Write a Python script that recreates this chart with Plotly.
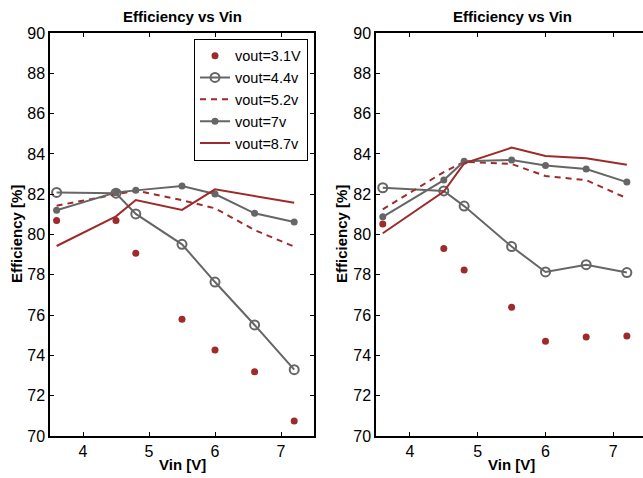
import plotly.graph_objects as go

vin = [3.6, 4.5, 4.8, 5.5, 6.0, 6.6, 7.2]

# Left panel
L_v31 = [80.69, 80.69, 79.07, 75.79, 74.27, 73.19, 70.74]
L_v44 = [82.09, 82.05, 81.02, 79.51, 77.64, 75.51, 73.29]
L_v52 = [81.43, 82.0, 82.18, 81.7, 81.3, 80.22, 79.4]
L_v7 = [81.2, 82.09, 82.19, 82.41, 82.01, 81.05, 80.62]
L_v87 = [79.43, 80.9, 81.71, 81.22, 82.24, 81.9, 81.58]

# Right panel
R_v31 = [80.52, 79.31, 78.24, 76.39, 74.7, 74.91, 74.96]
R_v44 = [82.32, 82.16, 81.41, 79.4, 78.14, 78.5, 78.11]
R_v52 = [81.25, 83.1, 83.61, 83.5, 82.9, 82.7, 81.8]
R_v7 = [80.88, 82.7, 83.63, 83.7, 83.43, 83.25, 82.6]
R_v87 = [80.06, 82.13, 83.53, 84.31, 83.9, 83.78, 83.46]

names = ["vout=3.1V", "vout=4.4v", "vout=5.2v", "vout=7v", "vout=8.7v"]
yticks = [70, 72, 74, 76, 78, 80, 82, 84, 86, 88, 90]
xticks = [4, 5, 6, 7]

RED = "#9E2A2B"
GREY = "#666666"
W, H = 643, 478

fig = go.Figure()

def add_panel(data, xa, ya, show):
    v31, v44, v52, v7, v87 = data
    fig.add_trace(go.Scatter(x=vin, y=v31, mode="markers", name=names[0],
                             marker=dict(color=RED, size=7), xaxis=xa, yaxis=ya, showlegend=show))
    fig.add_trace(go.Scatter(x=vin, y=v44, mode="lines+markers", name=names[1],
                             line=dict(color=GREY, width=2),
                             marker=dict(symbol="circle-open", color=GREY, size=9, line=dict(width=2)),
                             xaxis=xa, yaxis=ya, showlegend=show))
    fig.add_trace(go.Scatter(x=vin, y=v52, mode="lines", name=names[2],
                             line=dict(color=RED, width=2, dash="6px,5px"),
                             xaxis=xa, yaxis=ya, showlegend=show))
    fig.add_trace(go.Scatter(x=vin, y=v7, mode="lines+markers", name=names[3],
                             line=dict(color=GREY, width=2),
                             marker=dict(symbol="circle", color=GREY, size=7),
                             xaxis=xa, yaxis=ya, showlegend=show))
    fig.add_trace(go.Scatter(x=vin, y=v87, mode="lines", name=names[4],
                             line=dict(color=RED, width=2),
                             xaxis=xa, yaxis=ya, showlegend=show))

add_panel((L_v31, L_v44, L_v52, L_v7, L_v87), "x", "y", True)
add_panel((R_v31, R_v44, R_v52, R_v7, R_v87), "x2", "y2", False)

FAM = "Liberation Sans, Arial, sans-serif"
font = dict(family=FAM, size=16, color="black")

axis_common = dict(showgrid=False, zeroline=False, showline=True, linecolor="black",
                   linewidth=1.5, ticks="inside", ticklen=4, tickwidth=1, tickcolor="black",
                   tickfont=font)

top, bottom = 33, 436
fig.update_layout(
    width=W, height=H,
    margin=dict(l=0, r=0, t=top, b=H - bottom, pad=0),
    plot_bgcolor="white", paper_bgcolor="white",
    font=font,
    xaxis=dict(domain=[50 / W, 314 / W], range=[3.5, 7.5], tickvals=xticks, mirror="ticks",
               anchor="y", **axis_common),
    yaxis=dict(domain=[0, 1], range=[70, 90], tickvals=yticks, mirror="ticks",
               anchor="x", **axis_common),
    xaxis2=dict(domain=[376 / W, 1.0], range=[3.5, 3.5 + 267 / 67.8], tickvals=xticks,
                mirror="ticks", anchor="y2", **axis_common),
    yaxis2=dict(domain=[0, 1], range=[70, 90], tickvals=yticks, mirror=False,
                anchor="x2", **axis_common),
    legend=dict(x=308 / W, xanchor="right", y=1 - (38.7 - top) / (bottom - top), yanchor="top",
                bgcolor="white", bordercolor="black", borderwidth=1,
                font=dict(family=FAM, size=14.5, color="black"),
                tracegroupgap=0),
)

ph = bottom - top

def px_x(x):
    return x / W

def px_y(y):
    return 1 - (y - top) / ph

bold = dict(family=FAM, size=15, color="black")
anns = [
    dict(text="<b>Efficiency vs Vin</b>", x=px_x(182), y=px_y(16.5)),
    dict(text="<b>Efficiency vs Vin</b>", x=px_x(512), y=px_y(16.5)),
    dict(text="<b>Vin [V]</b>", x=px_x(182), y=px_y(465)),
    dict(text="<b>Vin [V]</b>", x=px_x(511), y=px_y(465)),
    dict(text="<b>Efficiency [%]</b>", x=px_x(16.5), y=px_y(234.5), textangle=-90),
    dict(text="<b>Efficiency [%]</b>", x=px_x(341.5), y=px_y(234.5), textangle=-90),
]
for a in anns:
    fig.add_annotation(xref="paper", yref="paper", showarrow=False, xanchor="center",
                       yanchor="middle", font=bold, **a)

fig.write_html("out.html", post_script="document.body.style.margin='0';",
               config={"displayModeBar": False})
